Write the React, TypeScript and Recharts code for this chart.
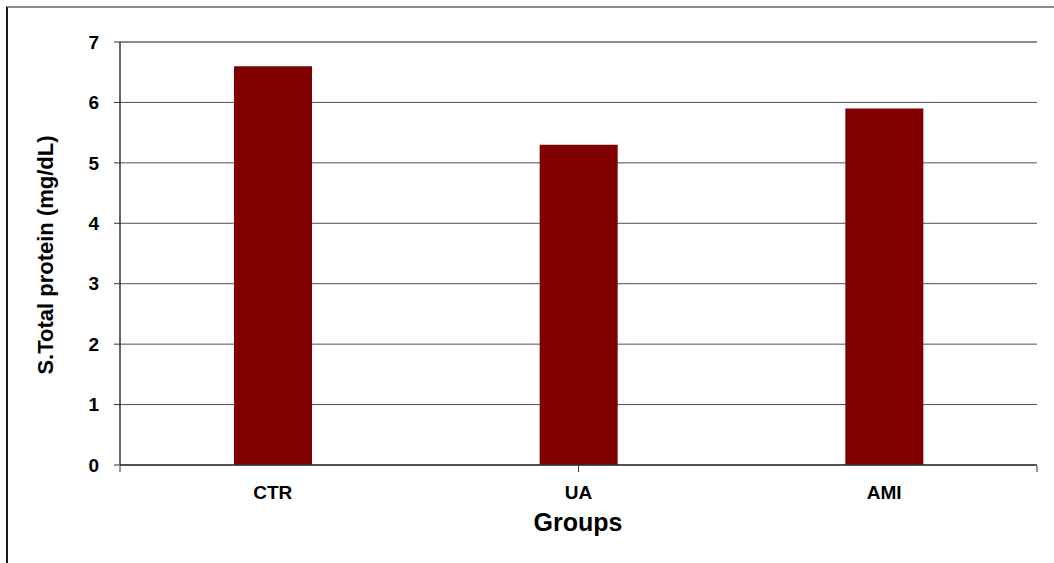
import React from 'react';
import { BarChart, Bar, XAxis, YAxis, CartesianGrid, Label } from 'recharts';

// serum total protein per study group
const groups = ['CTR', 'UA', 'AMI'];
const totalProtein = [6.6, 5.3, 5.9];
const yTicks = [0, 1, 2, 3, 4, 5, 6, 7];
const groupEdges = [0, 1, 2, 3];

const data = groups.map((group, i) => ({ group, protein: totalProtein[i] }));

const FONT = 'Arial, "Liberation Sans", Helvetica, sans-serif';
const tickStyle = { fontSize: 19, fontWeight: 'bold' as const, fill: '#000', fontFamily: FONT };

const YTitle = () => (
    <text
        transform="translate(53,255) rotate(-90)"
        textAnchor="middle"
        fontSize={22}
        fontWeight="bold"
        fontFamily={FONT}
        fill="#000"
    >
        S.Total protein (mg/dL)
    </text>
);

const XTitle = () => (
    <text x={578} y={531} textAnchor="middle" fontSize={25} fontWeight="bold" fontFamily={FONT} fill="#000">
        Groups
    </text>
);

const App: React.FC = () => {
    return (
        <div style={{ position: 'absolute', left: 0, top: 0, width: 1054, height: 563, overflow: 'hidden', background: '#fff' }}>
            <div
                style={{
                    position: 'absolute',
                    left: 6,
                    top: 6,
                    width: 1100,
                    height: 620,
                    borderTop: '2px solid #8a8a8a',
                    borderLeft: '2px solid #1a1a1a',
                }}
            />
            <div style={{ position: 'absolute', left: 0, top: 0 }}>
                <BarChart
                    width={1054}
                    height={563}
                    data={data}
                    margin={{ top: 41, right: 17, bottom: 96, left: 60 }}
                    barSize={78}
                >
                    <CartesianGrid xAxisId="cat" yAxisId="left" vertical={false} stroke="#505050" strokeWidth={1} />
                    <XAxis
                        xAxisId="cat"
                        dataKey="group"
                        height={1}
                        axisLine={{ stroke: '#333', strokeWidth: 1.5 }}
                        tickLine={false}
                        tickSize={0}
                        tickMargin={21}
                        tick={tickStyle}
                    >
                        <Label content={XTitle} />
                    </XAxis>
                    {/* tick marks at the group boundaries */}
                    <XAxis
                        xAxisId="edges"
                        type="number"
                        domain={[0, 3]}
                        ticks={groupEdges}
                        height={1}
                        axisLine={false}
                        tickLine={{ stroke: '#333' }}
                        tickSize={6}
                        tickFormatter={() => ''}
                    />
                    <XAxis
                        xAxisId="top"
                        dataKey="group"
                        orientation="top"
                        height={1}
                        axisLine={{ stroke: '#8a8a8a', strokeWidth: 2 }}
                        tick={false}
                        tickLine={false}
                    />
                    <YAxis
                        yAxisId="left"
                        width={60}
                        domain={[0, 7]}
                        ticks={yTicks}
                        interval={0}
                        axisLine={{ stroke: '#333', strokeWidth: 1.5 }}
                        tickLine={{ stroke: '#333' }}
                        tickSize={6}
                        tickMargin={15}
                        tick={tickStyle}
                    >
                        <Label content={YTitle} />
                    </YAxis>
                    <YAxis
                        yAxisId="right"
                        orientation="right"
                        width={0}
                        domain={[0, 7]}
                        axisLine={{ stroke: '#8a8a8a', strokeWidth: 2 }}
                        tick={false}
                        tickLine={false}
                    />
                    <Bar xAxisId="cat" yAxisId="left" dataKey="protein" fill="#800000" isAnimationActive={false} />
                </BarChart>
            </div>
        </div>
    );
};

export default App;
